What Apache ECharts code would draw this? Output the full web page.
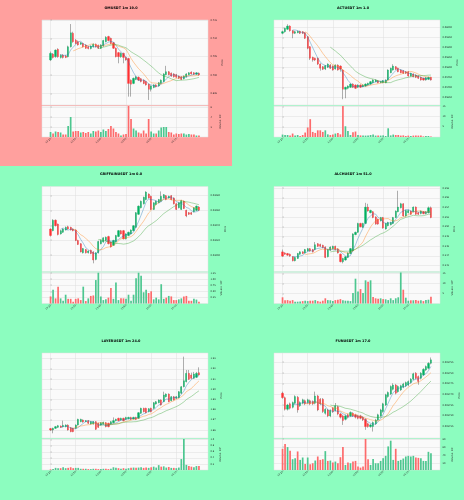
<!DOCTYPE html>
<html>
<head>
<meta charset="utf-8">
<title>1m candles</title>
<script src="https://cdn.jsdelivr.net/npm/echarts@6/dist/echarts.min.js"></script>
<style>
  html, body { margin: 0; padding: 0; background: #8cfdbf; }
  #hot { position: absolute; left: 0; top: 0; width: 232px; height: 166px; background: #ffa09e; }
  #main { position: absolute; left: 0; top: 0; width: 464px; height: 500px; }
</style>
</head>
<body>
<div id="hot"></div>
<div id="main"></div>
<script>
// x tick labels (every 10 candles)
var timeTicks = ['13:20', '13:30', '13:40', '13:50', '14:00', '14:10'];

// ---- OMUSDT ---- [open, close, low, high]
var omTitle = 'OMUSDT 1m 19.0';
var omOHLC = [
  [0.7041,0.7059,0.7038,0.7064],[0.7057,0.7048,0.7045,0.7060],[0.7050,0.7068,0.7047,0.7070],[0.7070,0.7050,0.7047,0.7073],[0.7048,0.7054,0.7045,0.7057],
  [0.7054,0.7048,0.7045,0.7057],[0.7052,0.7048,0.7046,0.7055],[0.7050,0.7077,0.7048,0.7080],[0.7077,0.7115,0.7075,0.7139],[0.7114,0.7091,0.7088,0.7118],
  [0.7095,0.7086,0.7084,0.7098],[0.7091,0.7082,0.7080,0.7094],[0.7084,0.7088,0.7082,0.7090],[0.7086,0.7077,0.7075,0.7088],[0.7082,0.7073,0.7071,0.7084],
  [0.7077,0.7072,0.7070,0.7079],[0.7072,0.7079,0.7070,0.7081],[0.7077,0.7084,0.7075,0.7086],[0.7084,0.7077,0.7075,0.7086],[0.7081,0.7073,0.7071,0.7083],
  [0.7073,0.7082,0.7071,0.7084],[0.7079,0.7094,0.7077,0.7096],[0.7091,0.7103,0.7089,0.7106],[0.7105,0.7094,0.7092,0.7107],[0.7100,0.7086,0.7084,0.7102],
  [0.7088,0.7073,0.7071,0.7090],[0.7073,0.7050,0.7048,0.7075],[0.7061,0.7050,0.7032,0.7063],[0.7050,0.7059,0.7047,0.7062],[0.7059,0.7048,0.7032,0.7061],
  [0.7048,0.7041,0.7039,0.7050],[0.7045,0.6977,0.6941,0.7047],[0.6986,0.6975,0.6941,0.6988],[0.6977,0.6991,0.6975,0.6993],[0.6988,0.6995,0.6986,0.6997],
  [0.6994,0.6986,0.6984,0.6996],[0.6990,0.6982,0.6980,0.6992],[0.6986,0.6977,0.6975,0.6988],[0.6982,0.6973,0.6971,0.6984],[0.6975,0.6961,0.6932,0.6977],
  [0.6961,0.6970,0.6955,0.6972],[0.6966,0.6973,0.6964,0.6975],[0.6973,0.6968,0.6966,0.6975],[0.6970,0.6979,0.6968,0.6981],[0.6977,0.6986,0.6975,0.6988],
  [0.6982,0.7003,0.6980,0.7005],[0.7001,0.7009,0.6999,0.7025],[0.7009,0.7001,0.6999,0.7011],[0.7005,0.6997,0.6995,0.7007],[0.7003,0.6995,0.6993,0.7005],
  [0.7001,0.6994,0.6992,0.7003],[0.6997,0.6991,0.6989,0.6999],[0.6995,0.6988,0.6986,0.6997],[0.6990,0.6997,0.6988,0.6999],[0.6995,0.7003,0.6993,0.7005],
  [0.7001,0.7006,0.6999,0.7008],[0.7008,0.7003,0.7001,0.7010],[0.7006,0.7002,0.7000,0.7008],[0.7002,0.7006,0.7000,0.7008],[0.7005,0.7000,0.6998,0.7007]
];
var omVol = [1.0,0.7,1.1,1.0,0.9,0.5,0.5,2.2,4.0,1.1, 1.2,1.2,0.9,1.0,0.8,1.0,0.7,1.2,1.1,1.3,
  1.0,1.5,1.2,1.6,2.2,1.7,1.0,0.7,0.3,0.5, 0.6,6.2,3.6,1.7,1.3,0.9,0.7,1.3,0.7,3.6,
  1.1,0.7,0.7,1.3,1.9,2.0,2.0,1.0,0.9,0.5, 0.7,0.6,0.7,0.7,0.5,0.6,0.5,0.5,0.3,0.3];
var omPriceTicks = [0.695, 0.700, 0.705, 0.710, 0.715];
var omVolTicks = [2, 4, 6];

// ---- ACTUSDT ----
var actTitle = 'ACTUSDT 1m 1.0';
var actOHLC = [
  [0.05972,0.05980,0.05967,0.05985],[0.05980,0.05997,0.05975,0.06000],[0.05992,0.06008,0.05988,0.06017],[0.06008,0.05985,0.05980,0.06012],[0.05985,0.05972,0.05947,0.05988],
  [0.05972,0.05980,0.05968,0.05984],[0.05975,0.05982,0.05972,0.05985],[0.05982,0.05972,0.05968,0.05985],[0.05980,0.05972,0.05968,0.05983],[0.05975,0.05947,0.05943,0.05978],
  [0.05955,0.05897,0.05892,0.05958],[0.05905,0.05847,0.05838,0.05908],[0.05852,0.05838,0.05830,0.05855],[0.05847,0.05838,0.05833,0.05850],[0.05847,0.05818,0.05813,0.05850],
  [0.05818,0.05797,0.05785,0.05822],[0.05805,0.05792,0.05788,0.05808],[0.05793,0.05810,0.05788,0.05813],[0.05802,0.05818,0.05798,0.05822],[0.05813,0.05797,0.05793,0.05818],
  [0.05808,0.05788,0.05785,0.05812],[0.05793,0.05813,0.05790,0.05817],[0.05813,0.05788,0.05785,0.05817],[0.05808,0.05792,0.05780,0.05812],[0.05788,0.05692,0.05642,0.05792],
  [0.05692,0.05702,0.05647,0.05705],[0.05697,0.05708,0.05692,0.05712],[0.05702,0.05718,0.05698,0.05722],[0.05718,0.05702,0.05698,0.05722],[0.05713,0.05697,0.05693,0.05717],
  [0.05702,0.05713,0.05698,0.05717],[0.05713,0.05702,0.05698,0.05717],[0.05705,0.05713,0.05702,0.05717],[0.05708,0.05718,0.05705,0.05722],[0.05713,0.05722,0.05710,0.05725],
  [0.05718,0.05730,0.05715,0.05733],[0.05725,0.05738,0.05722,0.05742],[0.05730,0.05738,0.05727,0.05742],[0.05735,0.05725,0.05722,0.05738],[0.05725,0.05730,0.05722,0.05733],
  [0.05725,0.05735,0.05722,0.05738],[0.05725,0.05738,0.05722,0.05742],[0.05738,0.05788,0.05735,0.05792],[0.05775,0.05797,0.05772,0.05800],[0.05788,0.05808,0.05785,0.05817],
  [0.05805,0.05792,0.05788,0.05808],[0.05797,0.05780,0.05777,0.05800],[0.05788,0.05775,0.05772,0.05792],[0.05785,0.05772,0.05768,0.05788],[0.05780,0.05772,0.05768,0.05783],
  [0.05780,0.05758,0.05755,0.05783],[0.05758,0.05772,0.05755,0.05775],[0.05768,0.05755,0.05752,0.05772],[0.05763,0.05752,0.05748,0.05767],[0.05758,0.05747,0.05743,0.05762],
  [0.05752,0.05738,0.05735,0.05755],[0.05747,0.05738,0.05735,0.05750],[0.05738,0.05750,0.05735,0.05753],[0.05742,0.05752,0.05738,0.05755],[0.05752,0.05738,0.05735,0.05755]
];
var actVol = [1.2,1.0,1.0,0.8,1.7,0.8,1.0,0.5,1.0,2.2, 4.7,8.8,2.5,2.0,3.3,3.3,2.5,3.3,1.3,1.0,
  1.2,1.7,2.0,1.3,15.3,5.3,3.0,1.0,2.3,2.7, 1.0,0.8,0.8,0.7,0.8,1.0,1.2,0.7,0.7,0.7,
  0.8,0.5,4.3,0.8,1.2,1.0,1.0,0.7,0.8,0.5, 0.7,0.5,0.7,0.8,0.7,0.8,0.3,0.5,0.5,0.3];
var actPriceTicks = [0.0565, 0.0570, 0.0575, 0.0580, 0.0585, 0.0590, 0.0595, 0.0600];
var actVolTicks = [5, 10, 15];

// ---- GRIFFAINUSDT ----
var grifTitle = 'GRIFFAINUSDT 1m 0.0';
var grifOHLC = [
  [0.030351,0.030263,0.030250,0.030360],[0.030329,0.030470,0.030320,0.030483],[0.030470,0.030395,0.030385,0.030480],[0.030417,0.030276,0.030265,0.030425],[0.030285,0.030329,0.030275,0.030340],
  [0.030307,0.030351,0.030298,0.030360],[0.030338,0.030373,0.030330,0.030385],[0.030382,0.030351,0.030342,0.030395],[0.030373,0.030338,0.030330,0.030382],[0.030351,0.030329,0.030320,0.030360],
  [0.030338,0.030197,0.030188,0.030346],[0.030197,0.030144,0.030135,0.030206],[0.030153,0.030043,0.030035,0.030162],[0.030030,0.030087,0.030021,0.030096],[0.030074,0.030030,0.030021,0.030083],
  [0.030030,0.030056,0.030021,0.030065],[0.030065,0.030021,0.030012,0.030074],[0.030043,0.029933,0.029889,0.030052],[0.029942,0.030030,0.029930,0.030040],[0.030030,0.030184,0.030021,0.030193],
  [0.030153,0.030197,0.030144,0.030210],[0.030175,0.030232,0.030166,0.030241],[0.030197,0.030241,0.030188,0.030250],[0.030250,0.030153,0.030144,0.030260],[0.030175,0.030109,0.030100,0.030184],
  [0.030131,0.030197,0.030122,0.030206],[0.030175,0.030263,0.030166,0.030272],[0.030250,0.030329,0.030241,0.030338],[0.030329,0.030285,0.030276,0.030338],[0.030329,0.030219,0.030210,0.030338],
  [0.030219,0.030285,0.030210,0.030294],[0.030263,0.030307,0.030254,0.030316],[0.030285,0.030338,0.030276,0.030346],[0.030329,0.030395,0.030320,0.030404],[0.030373,0.030571,0.030364,0.030580],
  [0.030549,0.030659,0.030540,0.030668],[0.030637,0.030725,0.030628,0.030734],[0.030690,0.030778,0.030681,0.030787],[0.030747,0.030848,0.030738,0.030860],[0.030822,0.030769,0.030760,0.030831],
  [0.030791,0.030615,0.030606,0.030800],[0.030615,0.030703,0.030606,0.030712],[0.030681,0.030725,0.030672,0.030734],[0.030703,0.030747,0.030694,0.030756],[0.030725,0.030791,0.030716,0.030857],
  [0.030769,0.030813,0.030760,0.030822],[0.030800,0.030747,0.030738,0.030809],[0.030769,0.030791,0.030760,0.030800],[0.030800,0.030747,0.030738,0.030809],[0.030769,0.030690,0.030681,0.030778],
  [0.030690,0.030615,0.030606,0.030699],[0.030637,0.030703,0.030628,0.030712],[0.030615,0.030734,0.030606,0.030743],[0.030725,0.030628,0.030619,0.030734],[0.030602,0.030527,0.030510,0.030611],
  [0.030571,0.030549,0.030540,0.030580],[0.030571,0.030549,0.030540,0.030580],[0.030584,0.030637,0.030575,0.030646],[0.030602,0.030659,0.030593,0.030668],[0.030646,0.030602,0.030593,0.030660]
];
var grifVol = [0.29,0.56,0.21,0.69,0.21,0.11,0.36,0.19,0.19,0.07, 0.19,0.21,0.14,0.69,0.10,0.21,0.31,0.33,0.96,1.26,
  0.29,0.14,0.17,0.24,0.64,0.19,0.86,0.14,0.21,0.21, 0.19,0.36,0.11,0.36,1.03,1.26,1.14,0.46,0.56,0.43,
  0.50,0.17,0.24,0.17,0.79,0.19,0.24,0.31,0.29,0.14, 0.14,0.17,0.21,0.29,0.31,0.11,0.11,0.19,0.16,0.07];
var grifPriceTicks = [0.0300, 0.0302, 0.0304, 0.0306, 0.0308];
var grifVolTicks = [0.25, 0.50, 0.75, 1.00, 1.25];

// ---- ALCHUSDT ----
var alchTitle = 'ALCHUSDT 1m 51.0';
var alchOHLC = [
  [0.24482,0.24394,0.24380,0.24530],[0.24461,0.24434,0.24420,0.24475],[0.24448,0.24414,0.24400,0.24460],[0.24434,0.24394,0.24380,0.24448],[0.24380,0.24299,0.24285,0.24394],
  [0.24299,0.24367,0.24285,0.24380],[0.24347,0.24448,0.24334,0.24461],[0.24434,0.24482,0.24420,0.24495],[0.24482,0.24448,0.24434,0.24495],[0.24461,0.24529,0.24448,0.24543],
  [0.24502,0.24549,0.24488,0.24563],[0.24549,0.24502,0.24488,0.24563],[0.24529,0.24482,0.24468,0.24543],[0.24529,0.24631,0.24516,0.24685],[0.24651,0.24597,0.24583,0.24665],
  [0.24637,0.24597,0.24583,0.24651],[0.24617,0.24570,0.24556,0.24631],[0.24583,0.24367,0.24353,0.24597],[0.24380,0.24529,0.24367,0.24543],[0.24516,0.24583,0.24502,0.24597],
  [0.24549,0.24597,0.24536,0.24611],[0.24597,0.24529,0.24516,0.24611],[0.24543,0.24461,0.24448,0.24556],[0.24434,0.24279,0.24265,0.24448],[0.24279,0.24347,0.24245,0.24360],
  [0.24313,0.24380,0.24299,0.24394],[0.24367,0.24461,0.24353,0.24475],[0.24448,0.24549,0.24434,0.24563],[0.24502,0.24854,0.24488,0.24868],[0.24840,0.24887,0.24826,0.24901],
  [0.24887,0.25070,0.24874,0.25084],[0.25070,0.25002,0.24989,0.25084],[0.24989,0.25070,0.24975,0.25084],[0.25070,0.25408,0.25056,0.25496],[0.25408,0.25327,0.25313,0.25476],
  [0.25293,0.25340,0.25279,0.25354],[0.25313,0.25192,0.25178,0.25327],[0.25205,0.25056,0.25043,0.25219],[0.25158,0.25056,0.25043,0.25172],[0.25124,0.25192,0.25110,0.25205],
  [0.25192,0.24975,0.24961,0.25205],[0.24955,0.25070,0.24941,0.25084],[0.25023,0.25090,0.25009,0.25104],[0.25043,0.25090,0.25029,0.25104],[0.25070,0.25192,0.25056,0.25205],
  [0.25192,0.25327,0.25178,0.25340],[0.25313,0.25408,0.25299,0.25746],[0.25394,0.25476,0.25380,0.25496],[0.25476,0.25225,0.25211,0.25490],[0.25225,0.25340,0.25211,0.25354],
  [0.25293,0.25340,0.25279,0.25354],[0.25327,0.25259,0.25245,0.25340],[0.25313,0.25408,0.25299,0.25422],[0.25408,0.25259,0.25245,0.25422],[0.25293,0.25259,0.25245,0.25307],
  [0.25273,0.25327,0.25259,0.25340],[0.25313,0.25273,0.25259,0.25327],[0.25273,0.25313,0.25259,0.25327],[0.25293,0.25394,0.25279,0.25420],[0.25394,0.25192,0.25178,0.25420]
];
var alchVol = [3.1,1.6,1.7,1.4,1.7,0.9,0.9,1.0,1.2,1.4, 1.2,1.4,1.4,1.7,1.2,0.9,1.4,2.6,1.7,1.6,
  1.2,1.7,1.9,2.2,1.6,1.4,1.4,1.2,5.2,12.4, 6.0,7.2,5.2,11.6,10.9,11.6,3.3,2.6,2.4,2.6,
  2.2,2.1,1.7,2.6,1.7,2.6,3.1,15.5,6.9,2.9, 1.4,1.6,1.6,1.7,1.4,1.6,1.2,1.7,1.9,3.4];
var alchPriceTicks = [0.242, 0.244, 0.246, 0.248, 0.250, 0.252, 0.254, 0.256, 0.258];
var alchVolTicks = [5, 10, 15];

// ---- LAYERUSDT ----
var layerTitle = 'LAYERUSDT 1m 24.0';
var layerOHLC = [
  [1.8614,1.8600,1.8590,1.8620],[1.8600,1.8617,1.8568,1.8623],[1.8617,1.8633,1.8610,1.8640],[1.8626,1.8643,1.8620,1.8650],[1.8639,1.8626,1.8620,1.8646],
  [1.8633,1.8646,1.8626,1.8692],[1.8633,1.8649,1.8626,1.8656],[1.8649,1.8600,1.8594,1.8656],[1.8623,1.8584,1.8578,1.8630],[1.8617,1.8584,1.8578,1.8623],
  [1.8617,1.8649,1.8610,1.8656],[1.8649,1.8705,1.8643,1.8711],[1.8682,1.8705,1.8676,1.8711],[1.8698,1.8679,1.8672,1.8705],[1.8682,1.8692,1.8676,1.8698],
  [1.8692,1.8666,1.8659,1.8698],[1.8659,1.8682,1.8653,1.8688],[1.8659,1.8682,1.8653,1.8688],[1.8682,1.8607,1.8600,1.8688],[1.8666,1.8626,1.8620,1.8672],
  [1.8649,1.8672,1.8643,1.8679],[1.8659,1.8676,1.8653,1.8682],[1.8672,1.8633,1.8626,1.8679],[1.8666,1.8633,1.8626,1.8672],[1.8659,1.8682,1.8653,1.8688],
  [1.8672,1.8692,1.8666,1.8724],[1.8692,1.8705,1.8685,1.8711],[1.8715,1.8692,1.8685,1.8721],[1.8698,1.8715,1.8692,1.8721],[1.8715,1.8692,1.8685,1.8721],
  [1.8705,1.8724,1.8698,1.8730],[1.8711,1.8724,1.8705,1.8730],[1.8724,1.8705,1.8698,1.8730],[1.8708,1.8724,1.8702,1.8730],[1.8724,1.8705,1.8698,1.8730],
  [1.8715,1.8770,1.8708,1.8776],[1.8764,1.8813,1.8757,1.8819],[1.8813,1.8780,1.8773,1.8819],[1.8813,1.8770,1.8764,1.8819],[1.8780,1.8809,1.8773,1.8816],
  [1.8813,1.8780,1.8773,1.8819],[1.8813,1.8868,1.8806,1.8875],[1.8855,1.8878,1.8849,1.8885],[1.8868,1.8895,1.8862,1.8901],[1.8895,1.8845,1.8839,1.8901],
  [1.8878,1.8944,1.8872,1.8976],[1.8927,1.8953,1.8920,1.8960],[1.8953,1.8878,1.8872,1.8960],[1.8888,1.8927,1.8882,1.8934],[1.8927,1.8895,1.8888,1.8934],
  [1.8911,1.8927,1.8904,1.8934],[1.8917,1.8976,1.8911,1.8983],[1.8960,1.9025,1.8953,1.9032],[1.9025,1.9084,1.9018,1.9320],[1.9074,1.9156,1.9067,1.9189],
  [1.9156,1.9097,1.9091,1.9189],[1.9140,1.9107,1.9101,1.9163],[1.9107,1.9150,1.9101,1.9170],[1.9117,1.9156,1.9110,1.9170],[1.9163,1.9140,1.9134,1.9215]
];
var layerVol = [0.02,0.03,0.07,0.06,0.06,0.09,0.06,0.07,0.09,0.06, 0.07,0.07,0.04,0.04,0.04,0.03,0.03,0.04,0.04,0.03,
  0.03,0.04,0.04,0.03,0.04,0.09,0.07,0.06,0.04,0.06, 0.04,0.06,0.07,0.08,0.07,0.08,0.09,0.07,0.08,0.07,
  0.09,0.11,0.08,0.16,0.11,0.12,0.08,0.10,0.07,0.07, 0.06,0.08,0.36,1.02,0.17,0.13,0.11,0.09,0.13,0.13];
var layerPriceTicks = [1.86, 1.87, 1.88, 1.89, 1.90, 1.91, 1.92, 1.93];
var layerVolTicks = [0.2, 0.4, 0.6, 0.8, 1.0];

// ---- FUNUSDT ----
var funTitle = 'FUNUSDT 1m 17.0';
var funOHLC = [
  [0.0037406,0.0037385,0.0037380,0.0037413],[0.0037385,0.0037331,0.0037325,0.0037390],[0.0037331,0.0037351,0.0037325,0.0037356],[0.0037356,0.0037336,0.0037330,0.0037362],[0.0037340,0.0037362,0.0037335,0.0037367],
  [0.0037359,0.0037390,0.0037354,0.0037396],[0.0037387,0.0037328,0.0037315,0.0037393],[0.0037347,0.0037362,0.0037342,0.0037368],[0.0037359,0.0037375,0.0037354,0.0037380],[0.0037371,0.0037356,0.0037350,0.0037376],
  [0.0037362,0.0037375,0.0037357,0.0037380],[0.0037371,0.0037356,0.0037350,0.0037376],[0.0037367,0.0037356,0.0037350,0.0037372],[0.0037359,0.0037393,0.0037354,0.0037413],[0.0037393,0.0037328,0.0037322,0.0037398],
  [0.0037378,0.0037356,0.0037350,0.0037383],[0.0037378,0.0037320,0.0037314,0.0037383],[0.0037312,0.0037331,0.0037306,0.0037336],[0.0037328,0.0037300,0.0037294,0.0037333],[0.0037300,0.0037325,0.0037294,0.0037330],
  [0.0037336,0.0037320,0.0037314,0.0037341],[0.0037325,0.0037347,0.0037320,0.0037360],[0.0037343,0.0037309,0.0037303,0.0037348],[0.0037309,0.0037294,0.0037288,0.0037314],[0.0037300,0.0037278,0.0037258,0.0037305],
  [0.0037284,0.0037300,0.0037279,0.0037305],[0.0037305,0.0037294,0.0037288,0.0037310],[0.0037300,0.0037316,0.0037295,0.0037321],[0.0037312,0.0037300,0.0037295,0.0037317],[0.0037305,0.0037294,0.0037288,0.0037310],
  [0.0037300,0.0037289,0.0037284,0.0037305],[0.0037300,0.0037289,0.0037284,0.0037305],[0.0037294,0.0037281,0.0037276,0.0037299],[0.0037284,0.0037250,0.0037235,0.0037289],[0.0037263,0.0037250,0.0037245,0.0037268],
  [0.0037250,0.0037258,0.0037245,0.0037263],[0.0037250,0.0037269,0.0037227,0.0037274],[0.0037263,0.0037281,0.0037258,0.0037286],[0.0037281,0.0037305,0.0037276,0.0037310],[0.0037300,0.0037328,0.0037295,0.0037333],
  [0.0037320,0.0037356,0.0037315,0.0037361],[0.0037351,0.0037398,0.0037346,0.0037403],[0.0037390,0.0037409,0.0037385,0.0037414],[0.0037402,0.0037437,0.0037397,0.0037442],[0.0037424,0.0037444,0.0037419,0.0037452],
  [0.0037444,0.0037406,0.0037400,0.0037449],[0.0037413,0.0037437,0.0037408,0.0037442],[0.0037421,0.0037440,0.0037416,0.0037445],[0.0037434,0.0037449,0.0037429,0.0037454],[0.0037440,0.0037455,0.0037435,0.0037460],
  [0.0037444,0.0037460,0.0037439,0.0037465],[0.0037455,0.0037471,0.0037450,0.0037476],[0.0037471,0.0037496,0.0037466,0.0037501],[0.0037499,0.0037475,0.0037470,0.0037504],[0.0037483,0.0037460,0.0037445,0.0037488],
  [0.0037475,0.0037499,0.0037470,0.0037504],[0.0037491,0.0037517,0.0037486,0.0037522],[0.0037514,0.0037530,0.0037509,0.0037535],[0.0037522,0.0037545,0.0037517,0.0037550],[0.0037545,0.0037561,0.0037540,0.0037572]
];
var funVol = [55.8,67.5,60,50.8,30,32.5,49.2,28.3,34.2,18.3, 34.2,17.5,20,26.7,36.7,28.3,30,50,25.8,26.7,
  21.7,24.2,20,35,60,15.8,21.7,20,24.2,25.8, 11.7,9.2,11.7,80,30,15.8,30.8,20,20,25.8,
  32.5,38.3,61.7,75.8,28.3,55.8,25.8,28.3,31.7,36.7, 38.3,36.7,38.3,34.2,33.3,32.5,25.8,25.8,48.3,45];
var funPriceTicks = [0.003725, 0.003730, 0.003735, 0.003740, 0.003745, 0.003750, 0.003755];
var funVolTicks = [20, 40, 60, 80];

// panel setup (axis ranges)
var panels = [
  {title: omTitle, ohlc: omOHLC, vol: omVol, pt: omPriceTicks, vt: omVolTicks, pmin: 0.69182, pmax: 0.715, vmin: 0, vmax: 6.2, dec: 3, vdec: 0, vname: 'Volume  10\u2075'},
  {title: actTitle, ohlc: actOHLC, vol: actVol, pt: actPriceTicks, vt: actVolTicks, pmin: 0.056133, pmax: 0.060383, vmin: 0, vmax: 15.3, dec: 5, vdec: 0, vname: 'Volume  10\u2075'},
  {title: grifTitle, ohlc: grifOHLC, vol: grifVol, pt: grifPriceTicks, vt: grifVolTicks, pmin: 0.029779, pmax: 0.030923, vmin: 0, vmax: 1.27, dec: 5, vdec: 2, vname: 'Volume  10\u2076'},
  {title: alchTitle, ohlc: alchOHLC, vol: alchVol, pt: alchPriceTicks, vt: alchVolTicks, pmin: 0.24076, pmax: 0.25834, vmin: 0, vmax: 15.5, dec: 3, vdec: 0, vname: 'Volume  10\u2074'},
  {title: layerTitle, ohlc: layerOHLC, vol: layerVol, pt: layerPriceTicks, vt: layerVolTicks, pmin: 1.85217, pmax: 1.93556, vmin: 0, vmax: 1.02, dec: 2, vdec: 1, vname: 'Volume  10\u2076'},
  {title: funTitle, ohlc: funOHLC, vol: funVol, pt: funPriceTicks, vt: funVolTicks, pmin: 0.0037197, pmax: 0.0037593, vmin: 3.3, vmax: 80, dec: 6, vdec: 0, vname: 'Volume  10\u2075'}
];

var UP = '#00b060', DN = '#fe3032', VUP = '#4dc790', VDN = '#fd6b6c', WICK = '#606060';
var MA_COLORS = ['#1f77b4', '#ff7f0e', '#2ca02c'];
var MA_LEN = [5, 10, 20];
var GRIDC = '#dedede';
var tickIdx = [0, 10, 20, 30, 40, 50];

function movingAvg(ohlc, n) {
  var out = [];
  for (var i = n - 1; i < ohlc.length; i++) {
    var s = 0;
    for (var k = i - n + 1; k <= i; k++) s += ohlc[k][1];
    out.push([i, s / n]);
  }
  return out;
}

var grids = [], xAxes = [], yAxes = [], series = [], titles = [];

panels.forEach(function (p, n) {
  var cx = (n % 2) * 232, cy = Math.floor(n / 2) * 166.5;
  var gp = n * 2, gv = n * 2 + 1;

  titles.push({
    text: p.title, left: cx + 116, top: cy + 1.2, textAlign: 'center',
    textStyle: {fontSize: 3.4, fontWeight: 'bold', color: '#000', fontFamily: 'DejaVu Sans'}
  });

  grids.push({left: cx + 42, top: cy + 20, width: 166, height: 85, show: true,
    backgroundColor: '#fafafa', borderColor: '#e2e2e2', borderWidth: 0.5});
  grids.push({left: cx + 42, top: cy + 106, width: 166, height: 31, show: true,
    backgroundColor: '#fafafa', borderColor: '#e2e2e2', borderWidth: 0.5});

  [gp, gv].forEach(function (g) {
    var bottom = g === gv;
    xAxes.push({
      type: 'value', gridIndex: g, min: -3.4, max: 62.6,
      axisLine: {show: false},
      axisTick: {show: bottom, customValues: tickIdx, length: 1.2, lineStyle: {color: '#666', width: 0.4}},
      splitLine: {show: true, customValues: tickIdx, lineStyle: {color: GRIDC, width: 0.5}},
      axisLabel: {show: bottom, customValues: tickIdx, rotate: 45, fontSize: 2.3, margin: 1.5, color: '#222',
        formatter: function (v) { return timeTicks[Math.round(v / 10)]; }}
    });
  });

  yAxes.push({
    type: 'value', gridIndex: gp, position: 'right', min: p.pmin, max: p.pmax,
    axisLine: {show: false},
    axisTick: {show: true, customValues: p.pt, length: 1.2, lineStyle: {color: '#666', width: 0.4}},
    splitLine: {show: true, customValues: p.pt, lineStyle: {color: GRIDC, width: 0.5}},
    axisLabel: {customValues: p.pt, fontSize: 2.3, margin: 2.5, color: '#222',
      formatter: function (v) { return v.toFixed(p.dec); }},
    name: 'Price', nameLocation: 'middle', nameRotate: 90, nameGap: 11,
    nameTextStyle: {fontSize: 2.5, color: '#222'}
  });
  yAxes.push({
    type: 'value', gridIndex: gv, position: 'right', min: p.vmin, max: p.vmax,
    axisLine: {show: false},
    axisTick: {show: true, customValues: p.vt, length: 1.2, lineStyle: {color: '#666', width: 0.4}},
    splitLine: {show: true, customValues: p.vt, lineStyle: {color: GRIDC, width: 0.5}},
    axisLabel: {customValues: p.vt, fontSize: 2.3, margin: 2.5, color: '#222',
      formatter: function (v) { return v.toFixed(p.vdec); }},
    name: p.vname, nameLocation: 'middle', nameRotate: 90, nameGap: 11,
    nameTextStyle: {fontSize: 2.5, color: '#222'}
  });

  // wicks (grey)
  series.push({
    type: 'candlestick', layout: 'horizontal', xAxisIndex: gp, yAxisIndex: gp, barWidth: 0.3,
    data: p.ohlc.map(function (d, i) { return [i, d[0], d[1], d[2], d[3]]; }),
    itemStyle: {color: WICK, color0: WICK, borderColor: WICK, borderColor0: WICK, borderWidth: 0.5}
  });
  // bodies
  series.push({
    type: 'candlestick', layout: 'horizontal', xAxisIndex: gp, yAxisIndex: gp, barWidth: 1.7,
    data: p.ohlc.map(function (d, i) { return [i, d[0], d[1], Math.min(d[0], d[1]), Math.max(d[0], d[1])]; }),
    itemStyle: {color: UP, color0: DN, borderColor: UP, borderColor0: DN, borderWidth: 0.3}
  });
  MA_LEN.forEach(function (len, k) {
    series.push({
      type: 'line', xAxisIndex: gp, yAxisIndex: gp, showSymbol: false, silent: true,
      data: movingAvg(p.ohlc, len),
      lineStyle: {color: MA_COLORS[k], width: 0.6, opacity: 0.65}
    });
  });
  series.push({
    type: 'bar', xAxisIndex: gv, yAxisIndex: gv, barWidth: 1.7,
    data: p.vol.map(function (v, i) {
      var up = p.ohlc[i][1] >= p.ohlc[i][0];
      return {value: [i, v], itemStyle: {color: up ? VUP : VDN}};
    })
  });
});

var chart = echarts.init(document.getElementById('main'), null, {renderer: 'canvas'});
chart.setOption({
  animation: false,
  backgroundColor: 'transparent',
  textStyle: {fontFamily: 'DejaVu Sans'},
  title: titles,
  grid: grids,
  xAxis: xAxes,
  yAxis: yAxes,
  series: series
});
</script>
</body>
</html>
